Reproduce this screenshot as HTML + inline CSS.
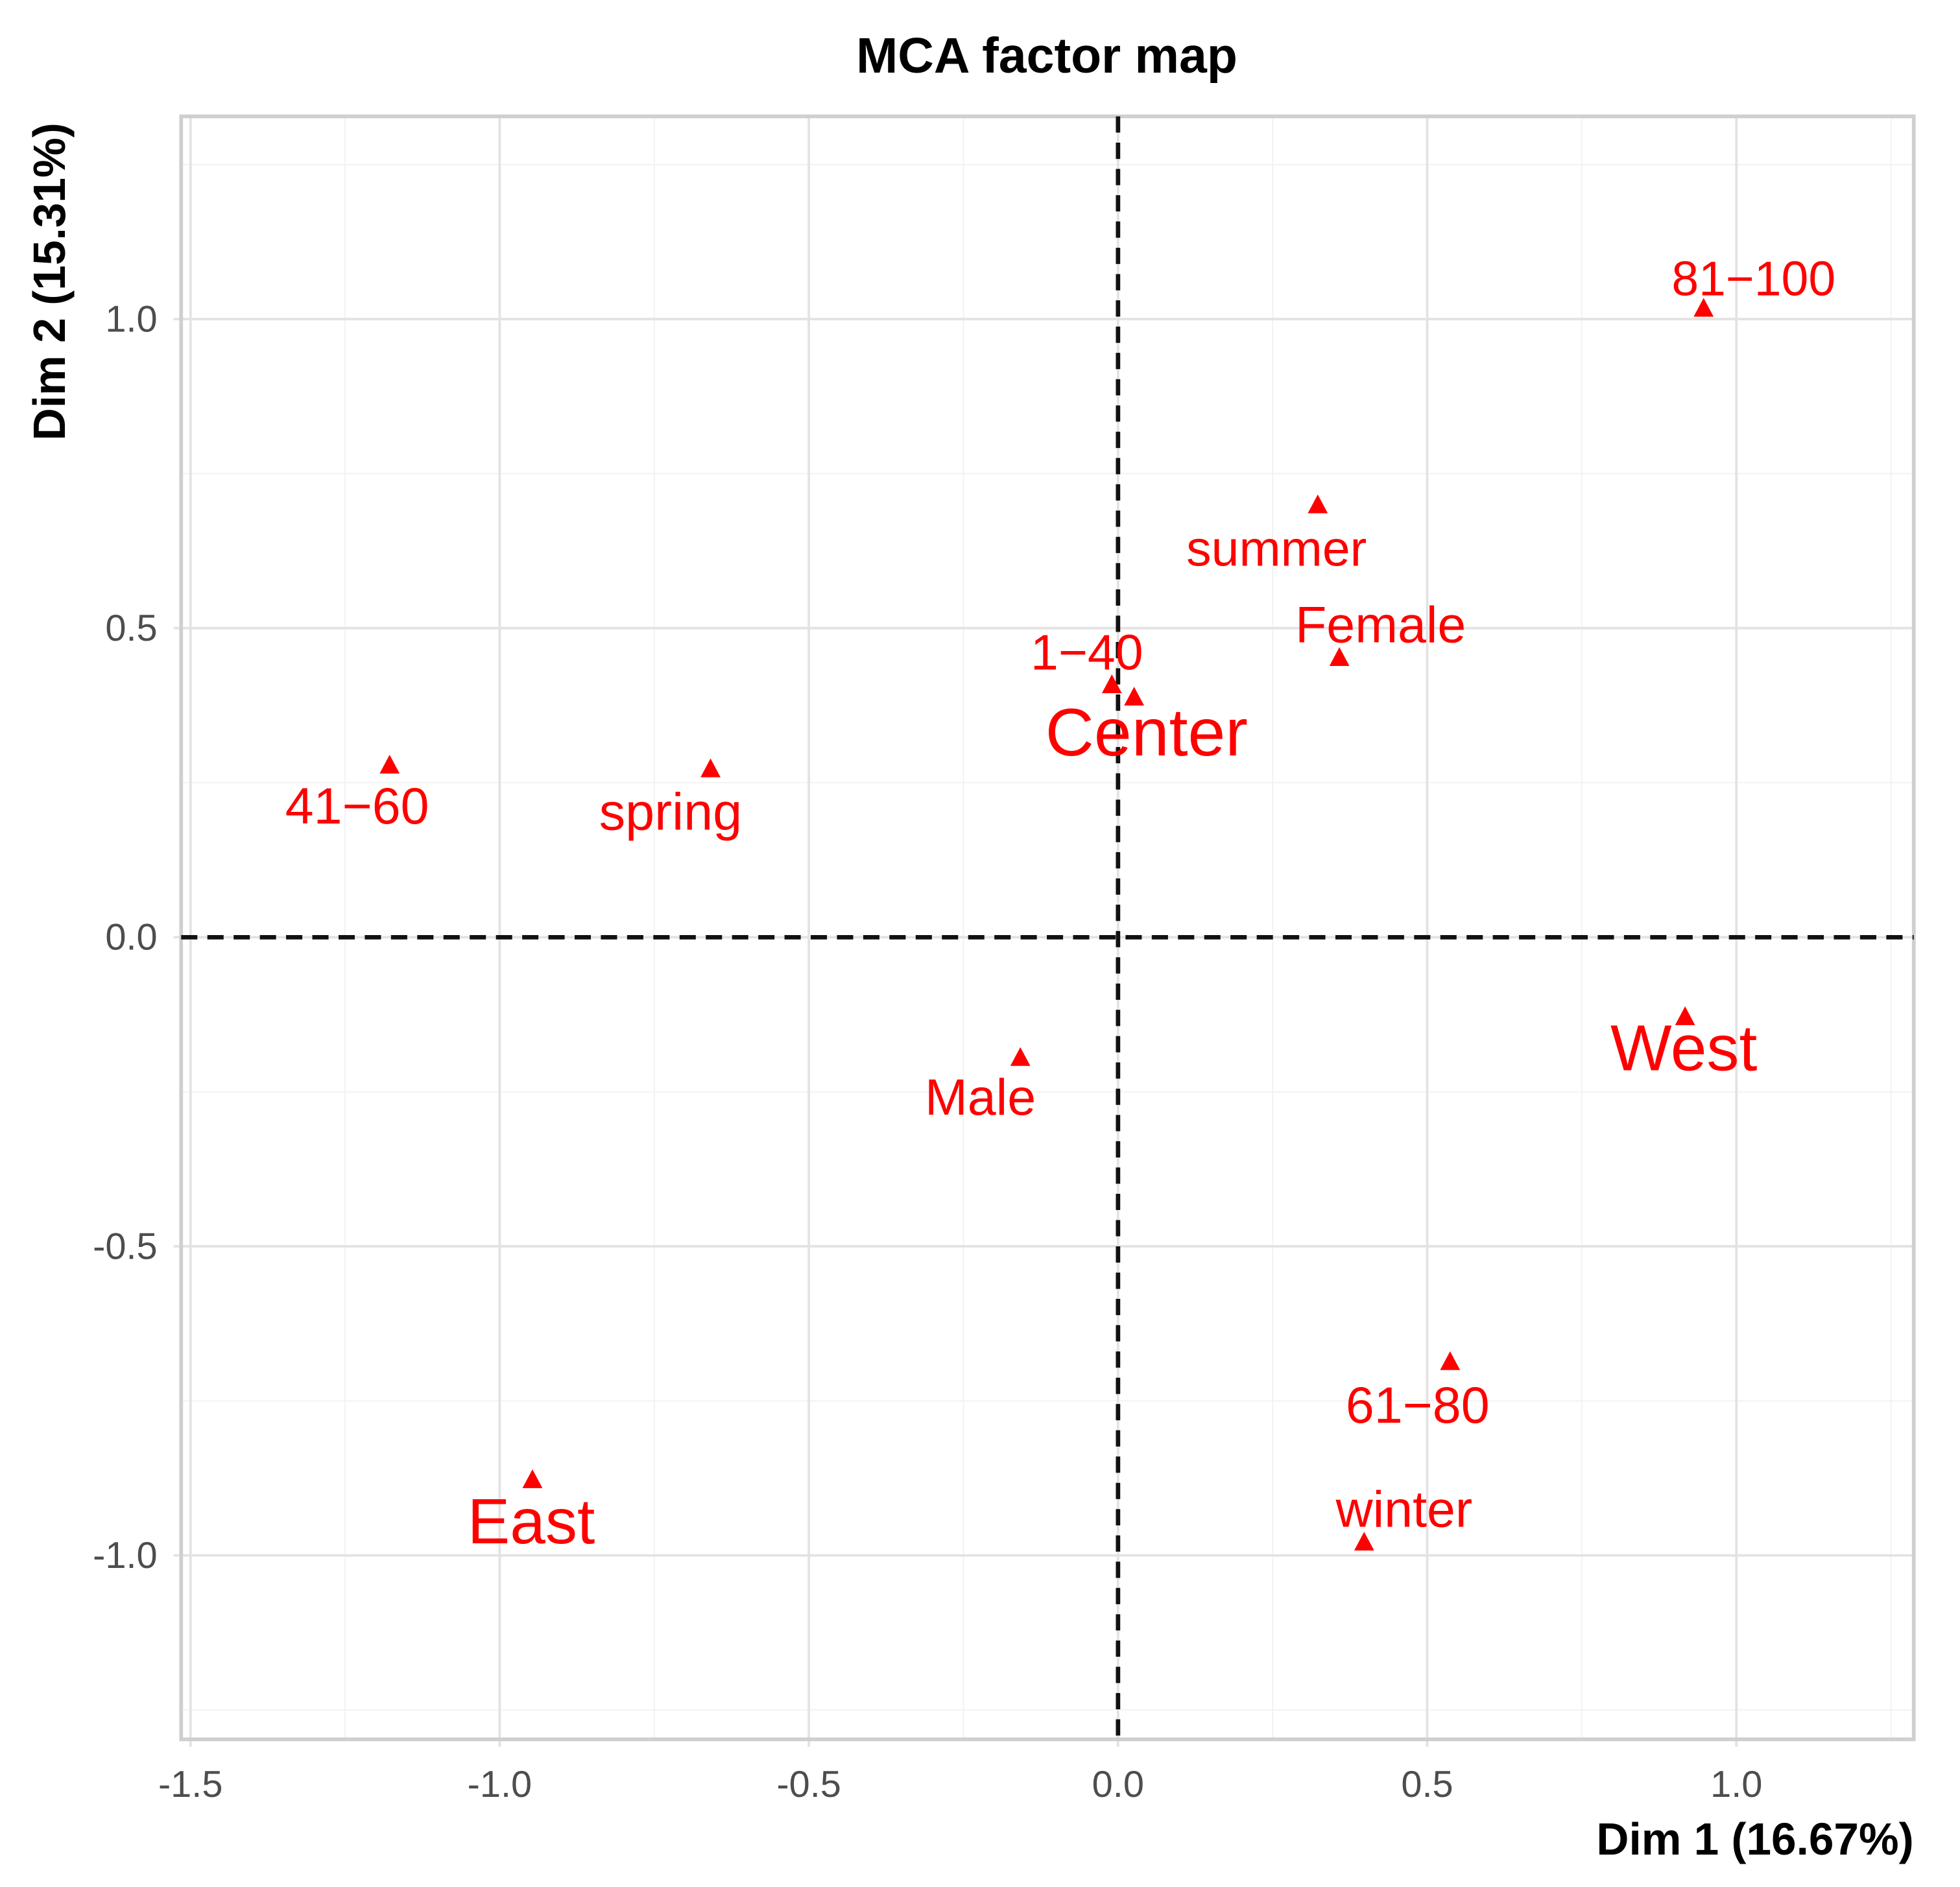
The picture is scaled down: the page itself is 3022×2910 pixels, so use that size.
<!DOCTYPE html>
<html><head><meta charset="utf-8"><style>html,body{margin:0;padding:0;background:#fff}svg{display:block}</style></head>
<body>
<svg id="chart" width="3022" height="2910" viewBox="0 0 1569 1508" preserveAspectRatio="none" xmlns="http://www.w3.org/2000/svg" font-family="'Liberation Sans', sans-serif">
<g id="grid"></g>
<g id="axes"></g>
<g id="marks"></g>
<text x="838" y="58" text-anchor="middle" font-size="40" font-weight="bold" fill="#000">MCA factor map</text>
<text x="1532" y="1482" text-anchor="end" font-size="36" font-weight="bold" fill="#000">Dim 1 (16.67%)</text>
<text transform="translate(52,225) rotate(-90)" text-anchor="middle" font-size="36" font-weight="bold" fill="#000">Dim 2 (15.31%)</text>
</svg>
<script>
const categories = ["81-100","summer","Female","1-40","Center","41-60","spring","Male","West","61-80","winter","East"];
const dim1 = [0.947,0.323,0.358,-0.010,0.026,-1.178,-0.659,-0.158,0.917,0.537,0.398,-0.947];
const dim2 = [1.016,0.698,0.451,0.407,0.387,0.277,0.271,-0.196,-0.130,-0.688,-0.980,-0.879];
const xTicks = [-1.5,-1.0,-0.5,0.0,0.5,1.0];
const yTicks = [-1.0,-0.5,0.0,0.5,1.0];
const xTickLabels = ["-1.5","-1.0","-0.5","0.0","0.5","1.0"];
const yTickLabels = ["-1.0","-0.5","0.0","0.5","1.0"];

const NS="http://www.w3.org/2000/svg";
const L=145,R=1532,T=93,B=1390;
function sx(v){return 895+v*495;}
function sy(v){return 749-v*494;}
function mk(tag,attrs,parent){const e=document.createElementNS(NS,tag);for(const k in attrs)e.setAttribute(k,attrs[k]);parent.appendChild(e);return e;}
const grid=document.getElementById('grid'),axes=document.getElementById('axes'),marks=document.getElementById('marks');
mk('rect',{x:L,y:T,width:R-L,height:B-T,fill:'#fff'},grid);
for(let v=-1.75;v<=1.5;v+=0.5){const x=sx(v);if(x>L&&x<R){const l=mk('line',{x1:x,x2:x,y1:T,y2:B,stroke:'#f2f2f2','stroke-width':1},grid);

}}
for(let v=-1.25;v<=1.5;v+=0.5){const y=sy(v);if(y>T&&y<B){const l=mk('line',{x1:L,x2:R,y1:y,y2:y,stroke:'#f2f2f2','stroke-width':1},grid);

}}
xTicks.forEach((v,i)=>{const x=sx(v);
const l=mk('line',{x1:x,x2:x,y1:T,y2:B+6,stroke:'#e3e3e3','stroke-width':2},grid);


const t=mk('text',{x:x,y:1436,'text-anchor':'middle','font-size':30,fill:'#4d4d4d'},axes);t.textContent=xTickLabels[i];

});
yTicks.forEach((v,i)=>{const y=sy(v);
const l=mk('line',{x1:L-6,x2:R,y1:y,y2:y,stroke:'#e3e3e3','stroke-width':2},grid);


const t=mk('text',{x:126,y:y+10,'text-anchor':'end','font-size':30,fill:'#4d4d4d'},axes);t.textContent=yTickLabels[i];

});
const bd=mk('rect',{x:L,y:T,width:R-L,height:B-T,fill:'none',stroke:'#cfcfcf','stroke-width':3},axes);


const h=mk('line',{x1:L,x2:R,y1:sy(0),y2:sy(0),stroke:'#111','stroke-width':3.5,'stroke-dasharray':'13,8'},axes);


const vz=mk('line',{x1:sx(0),x2:sx(0),y1:T,y2:B,stroke:'#111','stroke-width':3.5,'stroke-dasharray':'13,8'},axes);


const lblOff={"81-100":[40,-11,39],"summer":[-33,48,40],"Female":[33,-13,41],"1-40":[-20,-13,40],"Center":[10,46,54],"41-60":[-26,46,41],"spring":[-32,48,42],"Male":[-32,45,41],"West":[-1,42,52],"61-80":[-26,48,41],"winter":[32,-13,41],"East":[-1,50,51]};
categories.forEach((c,i)=>{const x=sx(dim1[i]),y=sy(dim2[i]);
const p=mk('polygon',{points:`${x},${y-9} ${x-8},${y+6} ${x+8},${y+6}`,fill:'#ff0000'},marks);


const o=lblOff[c];
const t=mk('text',{x:x+o[0],y:y+o[1],'text-anchor':'middle','font-size':o[2],fill:'#ff0000'},marks);
t.textContent=c.replace('-','\u2212');

});
</script>
</body></html>
